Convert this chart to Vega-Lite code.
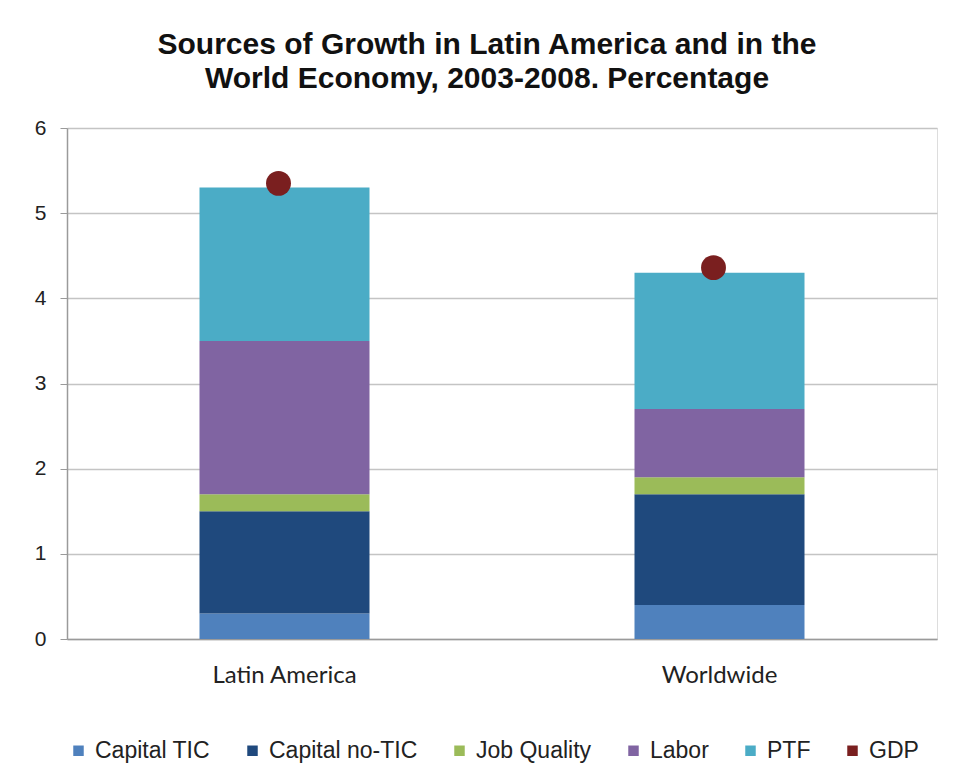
{
  "$schema": "https://vega.github.io/schema/vega-lite/v6.json",
  "autosize": {"type": "none"},
  "width": 870,
  "height": 511,
  "padding": {"left": 67, "top": 128, "right": 35, "bottom": 143},
  "background": "white",
  "title": {
    "text": ["Sources of Growth in Latin America and in the", "World Economy, 2003-2008. Percentage"],
    "font": "Liberation Sans",
    "fontSize": 30,
    "fontWeight": "bold",
    "lineHeight": 34,
    "color": "#111111",
    "anchor": "middle",
    "dx": -15,
    "offset": 23
  },
  "datasets": {
    "bars": [
      {"region": "Latin America", "component": "Capital TIC", "ord": 1, "value": 0.3},
      {"region": "Latin America", "component": "Capital no-TIC", "ord": 2, "value": 1.2},
      {"region": "Latin America", "component": "Job Quality", "ord": 3, "value": 0.2},
      {"region": "Latin America", "component": "Labor", "ord": 4, "value": 1.8},
      {"region": "Latin America", "component": "PTF", "ord": 5, "value": 1.8},
      {"region": "Worldwide", "component": "Capital TIC", "ord": 1, "value": 0.4},
      {"region": "Worldwide", "component": "Capital no-TIC", "ord": 2, "value": 1.3},
      {"region": "Worldwide", "component": "Job Quality", "ord": 3, "value": 0.2},
      {"region": "Worldwide", "component": "Labor", "ord": 4, "value": 0.8},
      {"region": "Worldwide", "component": "PTF", "ord": 5, "value": 1.6}
    ],
    "gdp": [
      {"region": "Latin America", "component": "GDP", "value": 5.35},
      {"region": "Worldwide", "component": "GDP", "value": 4.36}
    ]
  },
  "encoding": {
    "x": {
      "field": "region",
      "type": "nominal",
      "sort": ["Latin America", "Worldwide"],
      "scale": {"paddingInner": 0.6, "paddingOuter": 0.3},
      "axis": {
        "title": null,
        "labelAngle": 0,
        "labelFont": "Lato",
        "labelFontSize": 24,
        "labelColor": "#222222",
        "labelPadding": 24,
        "ticks": false,
        "domainColor": "#9a9a9a",
        "domainWidth": 1.5
      }
    }
  },
  "layer": [
    {
      "data": {"name": "bars"},
      "mark": {"type": "bar", "size": 170},
      "encoding": {
        "y": {
          "field": "value",
          "type": "quantitative",
          "stack": "zero",
          "scale": {"domain": [0, 6], "nice": false},
          "axis": {
            "title": null,
            "values": [0, 1, 2, 3, 4, 5, 6],
            "format": "d",
            "labelFont": "Liberation Sans",
            "labelFontSize": 21,
            "labelColor": "#222222",
            "labelPadding": 14,
            "tickSize": 7,
            "tickColor": "#9a9a9a",
            "domainColor": "#9a9a9a",
            "domainWidth": 1.5,
            "gridColor": "#c4c4c4",
            "gridWidth": 1.5
          }
        },
        "color": {
          "field": "component",
          "type": "nominal",
          "scale": {
            "domain": ["Capital TIC", "Capital no-TIC", "Job Quality", "Labor", "PTF", "GDP"],
            "range": ["#4f81bd", "#1f497d", "#9bbb59", "#8064a2", "#4bacc6", "#7a1f1f"]
          },
          "legend": {
            "title": null,
            "orient": "bottom",
            "direction": "horizontal",
            "symbolType": "square",
            "symbolSize": 110,
            "symbolStrokeWidth": 0,
            "labelFont": "Liberation Sans",
            "labelFontSize": 23,
            "labelColor": "#222222",
            "columnPadding": 30,
            "labelOffset": 5,
            "offset": 52
          }
        },
        "order": {"field": "ord", "type": "quantitative"}
      }
    },
    {
      "data": {"name": "gdp"},
      "mark": {"type": "point", "shape": "circle", "filled": true, "size": 620, "opacity": 1, "xOffset": -6},
      "encoding": {
        "y": {"field": "value", "type": "quantitative"},
        "color": {"field": "component", "type": "nominal"}
      }
    }
  ]
}
